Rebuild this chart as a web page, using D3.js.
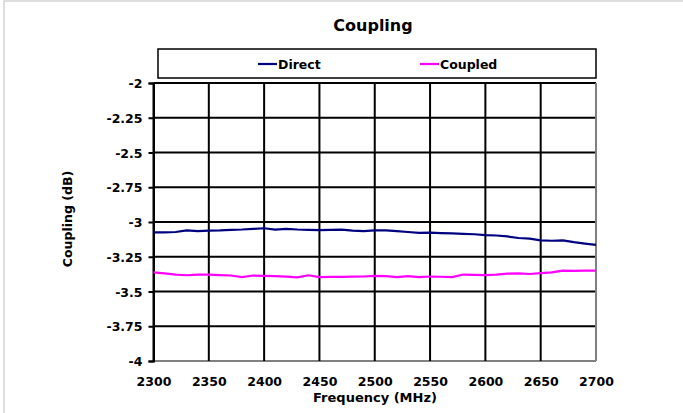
<!DOCTYPE html>
<html>
<head>
<meta charset="utf-8">
<script src="https://cdn.jsdelivr.net/npm/d3@7/dist/d3.min.js"></script>
<style>
  body { margin: 0; background: #fff; }
  text { font-family: "DejaVu Sans", sans-serif; font-weight: bold; fill: #000; }
</style>
</head>
<body>
<div id="my_dataviz"></div>
<script>

// data
let freq = d3.range(2300, 2701, 10);

let direct = [
  -3.075, -3.074, -3.072, -3.060, -3.066, -3.062, -3.060, -3.056, -3.054, -3.050,
  -3.045, -3.055, -3.050, -3.054, -3.056, -3.058, -3.056, -3.055, -3.062, -3.065,
  -3.060, -3.060, -3.065, -3.072, -3.078, -3.077, -3.080, -3.082, -3.085, -3.088,
  -3.095, -3.097, -3.104, -3.115, -3.120, -3.132, -3.135, -3.132, -3.145, -3.155,
  -3.165
];

let coupled = [
  -3.363, -3.370, -3.378, -3.383, -3.378, -3.378, -3.382, -3.385, -3.396, -3.385,
  -3.387, -3.390, -3.393, -3.398, -3.383, -3.396, -3.395, -3.395, -3.393, -3.392,
  -3.388, -3.390, -3.397, -3.390, -3.396, -3.392, -3.394, -3.397, -3.378, -3.380,
  -3.382, -3.378, -3.372, -3.370, -3.374, -3.368, -3.362, -3.350, -3.352, -3.350,
  -3.350
];

let x_ticks = [2300, 2350, 2400, 2450, 2500, 2550, 2600, 2650, 2700];
let y_ticks = [-2, -2.25, -2.5, -2.75, -3, -3.25, -3.5, -3.75, -4];

let series = [
  { name: "Direct", values: direct, color: "#000080" },
  { name: "Coupled", values: coupled, color: "#ff00ff" }
];

let W = 683, H = 413;
let margin = { top: 83, right: 87, bottom: 52, left: 153.5 };
let width = W - margin.left - margin.right,
    height = H - margin.top - margin.bottom;

let svg = d3.select("#my_dataviz")
  .append("svg")
  .attr("width", W)
  .attr("height", H);

// outer chart frame
svg.append("rect")
  .attr("x", 4).attr("y", 1)
  .attr("width", W + 10).attr("height", H + 10)
  .attr("fill", "none")
  .attr("stroke", "#d4d4d4")
  .attr("stroke-width", 1.5);

let x = d3.scaleLinear().domain([2300, 2700]).range([0, width]);
let y = d3.scaleLinear().domain([-4, -2]).range([height, 0]);

let g = svg.append("g")
  .attr("transform", "translate(" + margin.left + "," + margin.top + ")");

// grid lines
g.append("g")
  .selectAll("line")
  .data(y_ticks)
  .enter().append("line")
  .attr("x1", 0).attr("x2", width)
  .attr("y1", d => y(d)).attr("y2", d => y(d))
  .attr("stroke", d => d === -4 ? "#808080" : "#000")
  .attr("stroke-width", 2);

g.append("g")
  .selectAll("line")
  .data(x_ticks)
  .enter().append("line")
  .attr("x1", d => x(d)).attr("x2", d => x(d))
  .attr("y1", 0).attr("y2", height)
  .attr("stroke", d => d === 2700 ? "#808080" : "#000")
  .attr("stroke-width", 2);

// y axis
let yAxis = g.append("g")
  .call(d3.axisLeft(y).tickValues(y_ticks).tickSize(5).tickPadding(6).tickFormat(d => String(d)));
yAxis.attr("font-family", null).attr("font-size", null);
yAxis.select(".domain").attr("stroke", "#000").attr("stroke-width", 2);
yAxis.selectAll(".tick line").attr("stroke", "#000").attr("stroke-width", 2);
yAxis.selectAll("text").style("font-size", "12.5px").attr("dy", "0.36em");

// x axis labels
let xAxis = g.append("g")
  .attr("transform", "translate(0," + height + ")")
  .call(d3.axisBottom(x).tickValues(x_ticks).tickSize(0).tickPadding(16).tickFormat(d => String(d)));
xAxis.attr("font-family", null).attr("font-size", null);
xAxis.select(".domain").remove();
xAxis.selectAll("text").style("font-size", "12.5px");

// lines
let line = d3.line()
  .x((d, i) => x(freq[i]))
  .y(d => y(d));

g.selectAll(".series")
  .data(series)
  .enter().append("path")
  .attr("class", "series")
  .attr("d", d => line(d.values))
  .attr("fill", "none")
  .attr("stroke", d => d.color)
  .attr("stroke-width", 2.2)
  .attr("stroke-linejoin", "round");

// title
svg.append("text")
  .attr("x", 373).attr("y", 31)
  .attr("text-anchor", "middle")
  .style("font-size", "16px")
  .text("Coupling");

// axis titles
svg.append("text")
  .attr("x", 375).attr("y", 402)
  .attr("text-anchor", "middle")
  .style("font-size", "13px")
  .text("Frequency (MHz)");

svg.append("text")
  .attr("transform", "translate(72,219) rotate(-90)")
  .attr("text-anchor", "middle")
  .style("font-size", "12.5px")
  .text("Coupling (dB)");

// legend
svg.append("rect")
  .attr("x", 158).attr("y", 49)
  .attr("width", 438).attr("height", 29)
  .attr("fill", "#fff")
  .attr("stroke", "#000")
  .attr("stroke-width", 1.5);

let leg_x = [258, 420];
let legend = svg.selectAll(".legend")
  .data(series)
  .enter().append("g")
  .attr("class", "legend")
  .attr("transform", (d, i) => "translate(" + leg_x[i] + ",64)");

legend.append("line")
  .attr("x1", 0).attr("x2", 19)
  .attr("y1", 0).attr("y2", 0)
  .attr("stroke", d => d.color)
  .attr("stroke-width", 2.2);

legend.append("text")
  .attr("x", 20).attr("y", 0)
  .attr("dy", "0.36em")
  .style("font-size", "12.5px")
  .text(d => d.name);

</script>
</body>
</html>
